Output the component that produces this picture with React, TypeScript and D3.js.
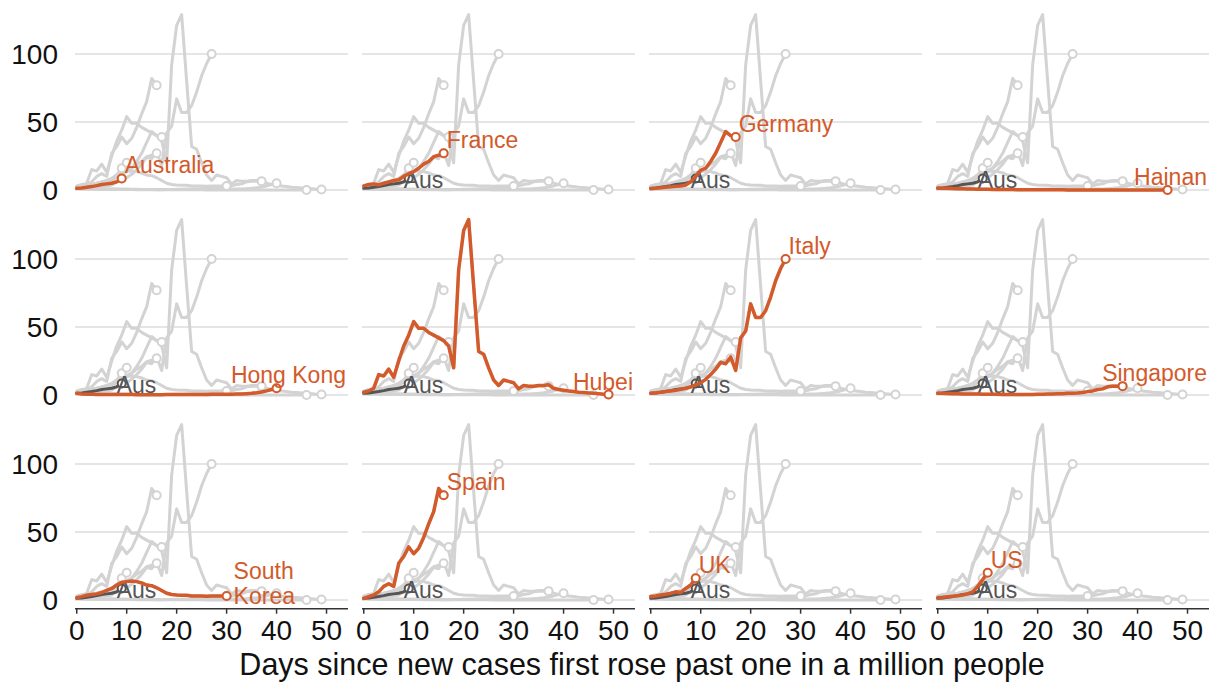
import React from 'react';
import * as d3 from 'd3';

// new cases per million, by days since cases first rose past one in a million
const countries = ['Australia', 'France', 'Germany', 'Hainan', 'Hong Kong', 'Hubei',
  'Italy', 'Singapore', 'South Korea', 'Spain', 'UK', 'US'];
const labels = ['Australia', 'France', 'Germany', 'Hainan', 'Hong Kong', 'Hubei',
  'Italy', 'Singapore', 'South\nKorea', 'Spain', 'UK', 'US'];

const australia = [1.2, 1.5, 2, 2.5, 3.2, 4, 4.5, 5, 6, 8.5];
const france = [3, 4, 4.5, 3.7, 5, 6, 7, 7.5, 10, 12, 13.5, 16, 19, 21, 24.5, 25.5, 27];
const germany = [1, 1.3, 1.6, 2, 2.3, 2.7, 3, 3.7, 6, 10, 14.5, 16, 21, 27, 35, 43, 40, 39];
const hainan = [
  1.5, 1.3, 1.2, 1.1, 1, 0.9, 0.8, 0.7, 0.6, 0.5,
  0.5, 0.4, 0.4, 0.3, 0.3, 0.3, 0.2, 0.2, 0.2, 0.2,
  0.1, 0.1, 0.1, 0.1, 0.1, 0.1, 0, 0, 0, 0,
  0, 0, 0, 0, 0, 0, 0, 0, 0, 0,
  0, 0, 0, 0, 0, 0, 0,
];
const hongKong = [
  1.3, 0.8, 0.6, 0.5, 0.4, 0.4, 0.3, 0.3, 0.3, 0.3,
  0.3, 0.3, 0.2, 0.2, 0.2, 0.2, 0.2, 0.2, 0.3, 0.3,
  0.3, 0.3, 0.3, 0.3, 0.4, 0.4, 0.4, 0.5, 0.5, 0.5,
  0.6, 0.6, 0.7, 0.8, 1, 1.2, 1.6, 2.2, 3, 4,
  5,
];
const hubei = [
  2, 3, 5, 15, 14, 19, 13, 25, 36, 44,
  54, 49, 49, 46, 44, 42, 40, 36, 20, 92,
  121, 129, 80, 32, 30, 20, 11, 7, 11, 10,
  9, 4.5, 7, 6.5, 6.5, 7, 7, 7.5, 5, 4,
  3.5, 3, 2.5, 2, 1.8, 1.5, 1.2, 1, 0.6, 0.3,
];
const italy = [1.3, 1.6, 2, 2.5, 3, 3.5, 4.2, 5, 6, 7.5, 9, 11.5, 15, 19, 24, 23, 28, 18,
  42, 47, 67, 57, 57, 62, 72, 84, 93, 100];
const singapore = [
  1.3, 1.2, 1.1, 1, 0.9, 0.8, 0.8, 0.7, 0.7, 0.6,
  0.6, 0.5, 0.5, 0.4, 0.4, 0.3, 0.3, 0.3, 0.4, 0.4,
  0.5, 0.6, 0.7, 0.8, 0.9, 1, 1.2, 1.3, 1.5, 1.8,
  2.5, 3, 4, 4.5, 6, 6.5, 6.5, 6.5,
];
const southKorea = [
  1.7, 2.5, 3.5, 4, 4.5, 5.5, 7, 8.5, 11, 13,
  13.5, 14, 13.5, 12.5, 11, 10.5, 9, 7, 5, 4,
  3.7, 3.5, 3.5, 3, 3, 3, 2.8, 3, 3, 3, 3,
];
const spain = [1.2, 2.5, 3.7, 6, 10, 12, 10, 27, 32, 39, 34, 38, 46, 56, 65, 82, 77];
const uk = [2.5, 3, 3.7, 4.2, 5, 6, 5.5, 8.5, 11, 16];
const us = [1.7, 2, 2.4, 2.8, 3.2, 3.7, 4.5, 6, 10, 15, 20];

const series = [australia, france, germany, hainan, hongKong, hubei,
  italy, singapore, southKorea, spain, uk, us];

const xTicks = [0, 10, 20, 30, 40, 50];
const yTicks = [0, 50, 100];
const xTitle = 'Days since new cases first rose past one in a million people';

const width = 1214;
const height = 687;
const left = 75;
const top = 7.2;
const colStep = 287;
const rowStep = 205;
const panelW = 273;
const panelH = 191.5;

const font = '"Liberation Sans", Arial, Helvetica, sans-serif';
const orange = '#d35a2a';
const grey = '#d3d3d3';
const dark = '#555555';
const labelSize = 23;

const ctx = document.createElement('canvas').getContext('2d');
function textWidth(s: string, size: number) {
  if (!ctx) return s.length * size * 0.55;
  ctx.font = `${size}px ${font}`;
  return ctx.measureText(s).width;
}

const x = d3.scaleLinear().domain([-0.35, 54.3]).range([0, panelW]);
const y = d3.scaleLinear().domain([-6.4, 134.4]).range([panelH, 0]);
const line = d3.line<number>().x((d, i) => x(i)).y((d) => y(d));

function Panel({ idx }: { idx: number }) {
  const col = idx % 4;
  const row = Math.floor(idx / 4);
  const data = series[idx];
  const last = data.length - 1;
  const mx = x(last);
  const my = y(data[last]);
  const aus = series[0];
  const ax = x(aus.length - 1);
  const ay = y(aus[aus.length - 1]);

  const lines = labels[idx].split('\n');
  let label;
  if (lines.length > 1) {
    label = (
      <text x={mx + 7} y={my - 17} fill={orange} fontSize={labelSize}>
        <tspan x={mx + 7}>{lines[0]}</tspan>
        <tspan x={mx + 7} dy={25}>{lines[1]}</tspan>
      </text>
    );
  } else {
    const w = textWidth(lines[0], labelSize);
    let lx = mx + 3;
    if (lx + w > panelW - 2) lx = panelW - 2 - w;
    label = (
      <text x={lx} y={my - 5} fill={orange} fontSize={labelSize}>{lines[0]}</text>
    );
  }

  return (
    <g transform={`translate(${left + col * colStep},${top + row * rowStep})`}>
      {yTicks.map((t) => (
        <line key={t} x1={0} x2={panelW} y1={y(t)} y2={y(t)} stroke="#dcdcdc" strokeWidth={1.3} />
      ))}
      {series.map((s, i) => (
        <path key={i} d={line(s) || ''} fill="none" stroke={grey} strokeWidth={3}
          strokeLinejoin="round" strokeLinecap="round" />
      ))}
      {series.map((s, i) => (
        <circle key={i} cx={x(s.length - 1)} cy={y(s[s.length - 1])} r={4}
          fill="#fff" stroke={grey} strokeWidth={2} />
      ))}
      {idx !== 0 && (
        <g>
          <path d={line(aus) || ''} fill="none" stroke={dark} strokeWidth={3}
            strokeLinejoin="round" strokeLinecap="round" />
          <circle cx={ax} cy={ay} r={4} fill="#fff" stroke={dark} strokeWidth={2} />
          <text x={ax - 5} y={ay + 10} fill={dark} fontSize={labelSize}>Aus</text>
        </g>
      )}
      <path d={line(data) || ''} fill="none" stroke={orange} strokeWidth={3.5}
        strokeLinejoin="round" strokeLinecap="round" />
      <circle cx={mx} cy={my} r={4} fill="#fff" stroke={orange} strokeWidth={2} />
      {label}
      {col === 0 && yTicks.map((t) => (
        <text key={t} x={-17} y={y(t)} dy="0.36em" textAnchor="end" fontSize={28} fill="#111">{t}</text>
      ))}
      {row === 2 && (
        <g>
          <line x1={0} x2={panelW} y1={panelH} y2={panelH} stroke="#333" strokeWidth={1.5} />
          {xTicks.map((t) => (
            <g key={t}>
              <line x1={x(t)} x2={x(t)} y1={panelH} y2={panelH + 5} stroke="#333" strokeWidth={1.5} />
              <text x={x(t)} y={panelH + 31} textAnchor="middle" fontSize={28} fill="#111">{t}</text>
            </g>
          ))}
        </g>
      )}
    </g>
  );
}

export default function App() {
  return (
    <svg width={width} height={height} style={{ position: 'absolute', left: 0, top: 0, background: '#fff' }}
      fontFamily={font}>
      {countries.map((c, i) => <Panel key={c} idx={i} />)}
      <text x={(left + 3 * colStep + panelW + left) / 2} y={675} textAnchor="middle" fontSize={30.5} fill="#111">
        {xTitle}
      </text>
    </svg>
  );
}
